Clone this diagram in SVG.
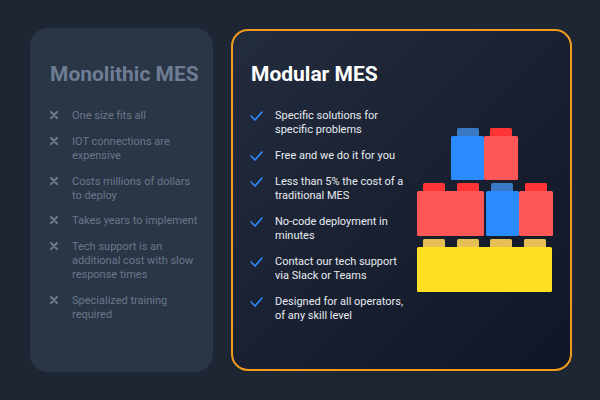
<svg xmlns="http://www.w3.org/2000/svg" width="600" height="400" viewBox="0 0 600 400">
<defs>
<linearGradient id="g" x1="0" y1="0" x2="1" y2="1"><stop offset="0" stop-color="#232c3d"/><stop offset="1" stop-color="#0f1626"/></linearGradient>
</defs>
<style>
.t{font-family:Roboto,"Liberation Sans",sans-serif}
.l{fill:#6b7789;font-size:11px}
.r{fill:#e8ecf2;font-size:11px}
.x{stroke:#6b7789;stroke-width:2.2;stroke-linecap:round}
.c{stroke:#2f8cff;stroke-width:1.6;fill:none;stroke-linecap:round;stroke-linejoin:round}
</style>
<rect width="600" height="400" fill="#1e2533"/>
<g id="monolithic">
<rect x="30" y="28" width="183" height="344" rx="18" fill="#2a3546"/>
<text class="t" x="50" y="81" font-size="21" font-weight="bold" fill="#6e7d93">Monolithic MES</text>
<g class="x">
<path d="M51 112l6 6M57 112l-6 6"/><path d="M51 138l6 6M57 138l-6 6"/><path d="M51 178l6 6M57 178l-6 6"/>
<path d="M51 217l6 6M57 217l-6 6"/><path d="M51 243l6 6M57 243l-6 6"/><path d="M51 297l6 6M57 297l-6 6"/>
</g>
<text class="t l" x="72" y="119">One size fits all</text>
<text class="t l" x="72" y="145">IOT connections are</text><text class="t l" x="72" y="159">expensive</text>
<text class="t l" x="72" y="185">Costs millions of dollars</text><text class="t l" x="72" y="199">to deploy</text>
<text class="t l" x="72" y="224">Takes years to implement</text>
<text class="t l" x="72" y="250">Tech support is an</text><text class="t l" x="72" y="264">additional cost with slow</text><text class="t l" x="72" y="278">response times</text>
<text class="t l" x="72" y="304">Specialized training</text><text class="t l" x="72" y="318">required</text>
</g>
<g id="modular">
<rect x="232" y="30" width="339" height="340" rx="16" fill="url(#g)" stroke="#f29c1f" stroke-width="2"/>
<text class="t" x="251" y="81" font-size="21" font-weight="bold" fill="#ffffff">Modular MES</text>
<g class="c">
<path d="M251 116l4 4 7-8"/><path d="M251 156l4 4 7-8"/><path d="M251 182l4 4 7-8"/>
<path d="M251 222l4 4 7-8"/><path d="M251 262l4 4 7-8"/><path d="M251 302l4 4 7-8"/>
</g>
<text class="t r" x="275" y="119">Specific solutions for</text><text class="t r" x="275" y="133">specific problems</text>
<text class="t r" x="275" y="159">Free and we do it for you</text>
<text class="t r" x="275" y="185">Less than 5% the cost of a</text><text class="t r" x="275" y="199">traditional MES</text>
<text class="t r" x="275" y="225">No-code deployment in</text><text class="t r" x="275" y="239">minutes</text>
<text class="t r" x="275" y="265">Contact our tech support</text><text class="t r" x="275" y="279">via Slack or Teams</text>
<text class="t r" x="275" y="305">Designed for all operators,</text><text class="t r" x="275" y="319">of any skill level</text>
</g>
<g id="bricks">
<rect x="457" y="128" width="22" height="9" rx="1.5" fill="#3b78c4"/><rect x="490" y="128" width="22" height="9" rx="1.5" fill="#ff3535"/>
<rect x="451" y="136" width="33" height="44" rx="1.5" fill="#2a8bff"/><rect x="484" y="136" width="34" height="44" rx="1.5" fill="#ff5757"/>
<rect x="423" y="183" width="22" height="9" rx="1.5" fill="#ff3535"/><rect x="457" y="183" width="22" height="9" rx="1.5" fill="#ff3535"/>
<rect x="491" y="183" width="22" height="9" rx="1.5" fill="#3b78c4"/><rect x="525" y="183" width="22" height="9" rx="1.5" fill="#ff3535"/>
<rect x="417" y="191" width="67" height="45" rx="1.5" fill="#ff5757"/><rect x="486" y="191" width="33" height="45" rx="1.5" fill="#2a8bff"/><rect x="519" y="191" width="34" height="45" rx="1.5" fill="#ff5757"/>
<g fill="#e6bf55"><rect x="423" y="239" width="22" height="9" rx="1.5"/><rect x="457" y="239" width="22" height="9" rx="1.5"/><rect x="490" y="239" width="22" height="9" rx="1.5"/><rect x="524" y="239" width="22" height="9" rx="1.5"/></g>
<rect x="417" y="247" width="135" height="45" rx="1.5" fill="#ffdf22"/>
</g>
</svg>
